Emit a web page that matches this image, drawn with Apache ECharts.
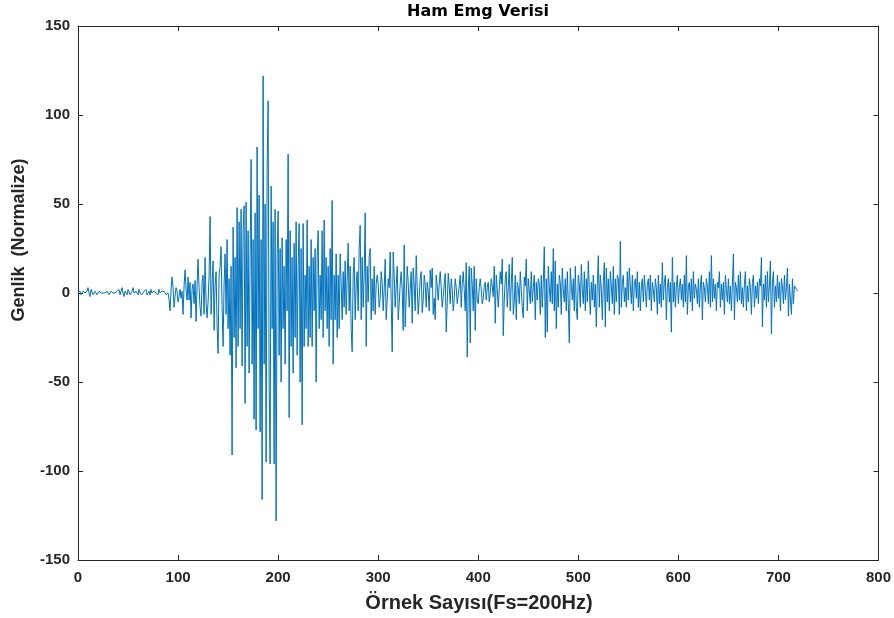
<!DOCTYPE html>
<html>
<head>
<meta charset="utf-8">
<script src="https://cdn.jsdelivr.net/npm/echarts@6/dist/echarts.min.js"></script>
<style>html,body{margin:0;padding:0;background:#fff;}#c{width:894px;height:618px;}</style>
</head>
<body>
<div id="c"></div>
<script>
const titleText = 'Ham Emg Verisi';
const xName = 'Örnek Sayısı(Fs=200Hz)';
const yName = 'Genlik  (Normalize)';
const xTicks = [0, 100, 200, 300, 400, 500, 600, 700, 800];
const yTicks = [-150, -100, -50, 0, 50, 100, 150];

// EMG samples 0..719
const emgQuiet = [
  1, 0, 1, -1, 0, 1, 2, 0, -1, 1,
  3, 0, -2, 2, 1, -1, 0, 1, 0, -1,
  0, 1, 0, 0, -1, 0, 1, 0, 0, 1,
  0, -1, 0, 1, 0, 0, -1, 0, 0, 1,
  0, 2, -1, 1, 3, 0, -2, 1, 0, -1,
  2, 1, -1, 0, 1, 3, 0, -1, 1, 0,
  -1, 2, 0, 1, -1, 0, 1, 0, 2, -1,
  0, 1, -1, 2, 0, -1, 1, 0, 0, 1,
  -1, 2, 0, -1, 1, 0, 1, 2, -1, 0
];
const emgBurst = [
  0, -4, -10, 2, 9, 3, -8, -2, 3, 1,
  -5, -2, 2, -3, 1, -12, 4, 13, 2, -4,
  9, -4, 6, -14, 2, 5, -6, 7, -16, 4,
  19, 3, -8, -13, 6, 10, -12, 20, -5, -14,
  -5, 10, 43, -12, 5, 18, -21, 4, 12, -18,
  -34, 10, 15, 26, -8, -30, 5, 22, -12, 30,
  -20, 8, -35, 15, -91, 37, -25, 20, -42, 48,
  -30, 40, -20, 47, -41, 35, 49, -62, 51, -30,
  35, -45, 20, 75, -40, 30, -71, 45, -77, 82,
  -20, 55, -78, 30, -116, 122, -40, 50, -95, 70,
  108, -50, -96, 60, -20, 40, -96, 47, -128, 20,
  46, -35, 25, -50, 31, -20, 15, -40, 30, -10,
  78, -70, 35, -30, 20, -45, 28, -25, 40, -35,
  15, 39, -50, 25, -74, 39, -30, 10, -20, 41,
  -30, 15, -25, 30, -30, 20, -10, 25, -50, 20,
  35, -20, 10, -15, 35, -25, 41, -10, 20, -20,
  15, -30, 25, -15, 52, -40, 10, -15, 22, -25,
  10, -20, 22, 5, -15, 12, -8, 18, -12, 8,
  28, -10, 15, -20, -33, 10, 20, -15, 5, 12,
  -10, 25, 38, -15, 20, -8, 10, 45, -30, 15,
  -5, 20, 25, -15, 8, -10, 15, -12, 5, 10
];
const emgTail = [
  5, -8, -3, 12, 6, -10, 2, 19, -15, -4,
  8, 3, 23, -5, -33, 23, 10, -8, 4, 15,
  -15, -6, 5, 12, 2, -21, 27, -19, -2, 15,
  6, -8, 2, 12, -17, 14, 4, -10, 21, 3,
  -12, -2, 8, 12, -11, -4, 10, 5, -8, 6,
  1, -10, 13, 3, 14, -12, -3, -15, 10, 4,
  -4, 5, 12, 3, -8, -2, 5, 11, -22, -6,
  11, 4, -6, 8, 2, -10, -3, 8, 3, -6,
  -5, 4, 10, -8, 5, 12, 2, -10, 17, -36,
  2, 15, -28, 14, 5, -10, 15, -21, 8, -4,
  -6, 3, 8, 2, -6, -3, 4, 6, -4, 3,
  6, -5, 0, 8, 4, -2, 15, -17, 10, 2,
  -8, 2, 12, 5, 19, -24, -4, 8, 12, -8,
  3, 16, -10, 5, 20, -12, -5, 10, -15, 6,
  3, -6, 12, 2, -8, -14, 9, 4, 19, -10,
  8, 2, -6, 12, -5, 3, 10, -15, 6, -4,
  8, 5, -12, 10, -8, 6, 26, -25, 8, -22,
  15, 3, -5, 12, -6, 25, -10, 18, -20, 5,
  -8, 10, 6, -12, 14, 2, -5, 8, -10, 12,
  -6, -28, 14, 4, -4, 8, -10, 15, -8, -15,
  10, 5, -8, 16, 2, -6, 12, -10, 8, -5,
  18, 3, -12, 6, -4, 10, -8, 5, -19, 5,
  21, -8, 10, 2, -15, 6, 17, -19, 14, -5,
  8, -10, 12, 4, -6, 15, -12, 8, -5, 10,
  8, -12, 29, -8, 6, 10, -5, 3, -8, 12,
  -4, 14, 4, -6, 10, -10, 5, 8, -3, 12,
  -8, 6, -10, 4, 8, -5, 10, 2, -8, 5,
  8, -4, 10, -10, 6, 2, -5, 8, 3, -12,
  10, -6, 5, -8, 17, -4, 6, 10, -15, 3,
  8, -5, 6, -22, 20, -5, 6, -8, 4, 10,
  -6, 3, 8, -4, 5, -8, 10, -5, 21, -12,
  4, 6, -5, 8, -10, 12, -3, 5, 2, -6,
  8, -8, 4, 10, -15, 6, 3, -5, 8, 4,
  -6, 12, -8, 21, -5, 8, -3, 5, -10, 6,
  3, 12, -8, 5, -4, 6, -12, 10, 2, -5,
  8, -6, 4, -10, 5, 22, -15, 6, 3, -5,
  10, -4, 12, -6, 3, -8, 5, 12, -10, 4,
  -5, 8, 3, -12, 6, 10, -8, 4, -3, 6,
  -6, 8, 4, 20, -19, 5, -4, 10, -8, 12,
  -5, 4, 18, -23, 6, 12, -8, 4, -5, 10,
  -3, 6, -10, 8, 4, -6, 10, -4, 3, 14,
  -13, 5, -4, -12, 8, -6, 4, 3, 2, 1
];
const emgValues = emgQuiet.concat(emgBurst, emgTail);
const seriesData = emgValues.map((v, i) => [i, v]);

const axisColor = '#262626';
const labelFont = { color: axisColor, fontSize: 15, fontWeight: 'bold', fontFamily: 'Liberation Sans Narrow, Liberation Sans, Arial, sans-serif' };

const chart = echarts.init(document.getElementById('c'), null, { renderer: 'canvas' });
const baseX = { type: 'value', min: xTicks[0], max: xTicks[xTicks.length - 1], interval: 100,
  axisLine: { show: true, onZero: false, lineStyle: { color: axisColor, width: 1 } },
  axisTick: { show: true, inside: true, length: 5, lineStyle: { color: axisColor } },
  splitLine: { show: false } };
const baseY = { type: 'value', min: yTicks[0], max: yTicks[yTicks.length - 1], interval: 50,
  axisLine: { show: true, onZero: false, lineStyle: { color: axisColor, width: 1 } },
  axisTick: { show: true, inside: true, length: 5, lineStyle: { color: axisColor } },
  splitLine: { show: false } };

chart.setOption({
  animation: false,
  backgroundColor: '#ffffff',
  grid: { left: 78, right: 15, top: 26, bottom: 58, containLabel: false },
  xAxis: [
    Object.assign({}, baseX, { position: 'bottom', axisLabel: Object.assign({ margin: 10 }, labelFont) }),
    Object.assign({}, baseX, { position: 'top', axisLabel: { show: false } })
  ],
  yAxis: [
    Object.assign({}, baseY, { position: 'left', axisLabel: Object.assign({ margin: 8 }, labelFont) }),
    Object.assign({}, baseY, { position: 'right', axisLabel: { show: false } })
  ],
  series: [{
    type: 'line', xAxisIndex: 0, yAxisIndex: 0, data: seriesData,
    showSymbol: false, symbol: 'none',
    lineStyle: { color: '#0072BD', width: 1 }, itemStyle: { color: '#0072BD' }
  }],
  graphic: [
    { type: 'text', x: 478, y: 12, style: { text: titleText, fill: '#000', font: 'bold 16px "DejaVu Sans", sans-serif', textAlign: 'center', textVerticalAlign: 'middle' } },
    { type: 'text', x: 479, y: 603, style: { text: xName, fill: axisColor, font: 'bold 20px "Liberation Sans", Arial, sans-serif', textAlign: 'center', textVerticalAlign: 'middle' } },
    { type: 'text', x: 19, y: 240, rotation: Math.PI / 2, style: { text: yName, fill: axisColor, font: 'bold 18px "Liberation Sans", Arial, sans-serif', textAlign: 'center', textVerticalAlign: 'middle' } }
  ]
});
</script>
</body>
</html>
